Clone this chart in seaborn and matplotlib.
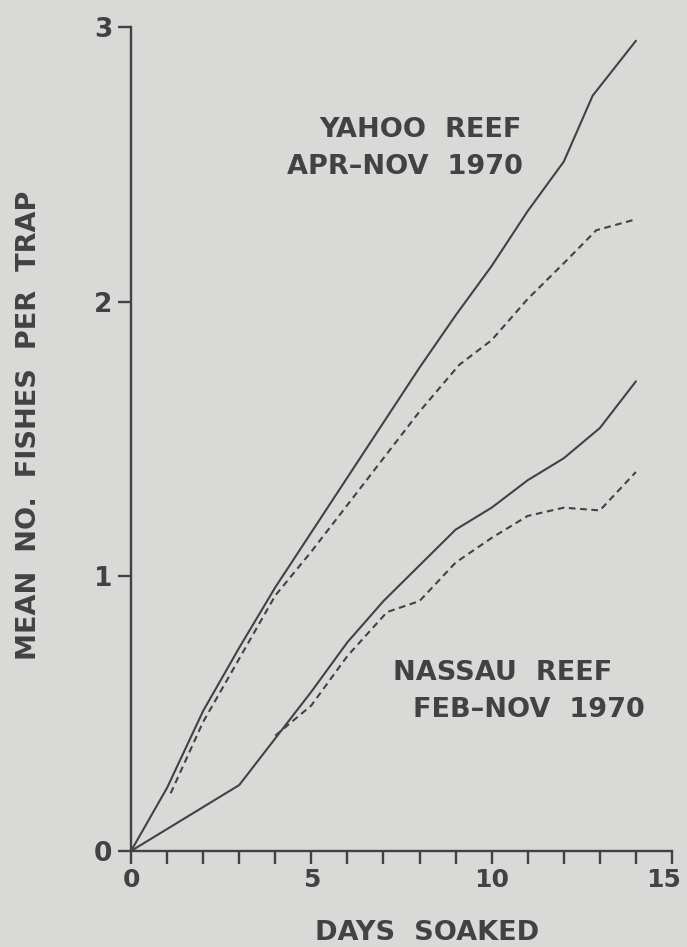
import numpy as np
import pandas as pd
import matplotlib
matplotlib.use("Agg")
import matplotlib.pyplot as plt
import matplotlib.transforms as mtransforms
import seaborn as sns

# Mean number of fishes per trap against days soaked
yahoo_total_days = [0, 1, 2, 3, 4, 5, 6, 7, 8, 9, 10, 11, 12, 12.8, 14]
yahoo_total = [0, 0.23, 0.51, 0.74, 0.96, 1.16, 1.36, 1.56, 1.76, 1.95, 2.13, 2.33, 2.51, 2.75, 2.95]

yahoo_dash_days = [1.1, 2, 3, 4, 5, 6, 7, 8, 9.1, 10, 11, 12, 12.9, 14]
yahoo_dash = [0.21, 0.47, 0.70, 0.93, 1.09, 1.26, 1.43, 1.60, 1.77, 1.86, 2.01, 2.14, 2.26, 2.30]

nassau_total_days = [0, 3, 4, 5, 6, 7, 8, 9, 10, 11, 12, 13, 14]
nassau_total = [0, 0.24, 0.41, 0.58, 0.76, 0.91, 1.04, 1.17, 1.25, 1.35, 1.43, 1.54, 1.71]

nassau_dash_days = [4, 5, 6, 7.1, 8, 9, 10, 11, 12, 13, 14]
nassau_dash = [0.42, 0.53, 0.71, 0.87, 0.91, 1.05, 1.14, 1.22, 1.25, 1.24, 1.38]

x_ticks = list(range(0, 16))
x_ticklabels = ["0", "", "", "", "", "5", "", "", "", "", "10", "", "", "", "", "15"]
y_ticks = [0, 1, 2, 3]

paper = "#d9d9d7"
ink = "#424242"

sns.set_theme(style="ticks")
plt.rcParams["font.family"] = ["DejaVu Sans"]

fig = plt.figure(figsize=(6.87, 9.47), dpi=100, facecolor=paper)
ax = fig.add_axes([131 / 687, 1 - 851 / 947, (672 - 131) / 687, (851 - 27) / 947])
ax.set_facecolor(paper)

series = [
    (yahoo_total_days, yahoo_total, "-"),
    (yahoo_dash_days, yahoo_dash, (0, (3.2, 2.2))),
    (nassau_total_days, nassau_total, "-"),
    (nassau_dash_days, nassau_dash, (0, (3.2, 2.2))),
]
for xs, ys, ls in series:
    df = pd.DataFrame({"days": xs, "fish": ys})
    sns.lineplot(data=df, x="days", y="fish", ax=ax, color=ink, lw=1.5,
                 linestyle=ls, sort=False, estimator=None)

ax.set_xlim(0, 15)
ax.set_ylim(0, 3)
ax.set_xticks(x_ticks)
ax.set_xticklabels(x_ticklabels)
ax.set_yticks(y_ticks)
ax.set_yticklabels([str(v) for v in y_ticks])
ax.set_xlabel("")
ax.set_ylabel("")

for side in ["top", "right"]:
    ax.spines[side].set_visible(False)
for side in ["left", "bottom"]:
    ax.spines[side].set_color(ink)
    ax.spines[side].set_linewidth(1.7)

ax.tick_params(axis="x", direction="out", length=9.5, width=1.7, color=ink,
               labelsize=18, labelcolor=ink, pad=3)
ax.tick_params(axis="y", direction="out", length=9.5, width=1.7, color=ink,
               labelsize=19, labelcolor=ink, pad=4)
for lab in ax.get_xticklabels() + ax.get_yticklabels():
    lab.set_fontweight("bold")

# keep the last day label inside the page edge
last = ax.get_xticklabels()[-1]
last.set_transform(last.get_transform() +
                   mtransforms.ScaledTranslation(-8 / 100, 0, fig.dpi_scale_trans))

txt = dict(color=ink, fontweight="bold", fontsize=19.5)
fig.text(427 / 687, 1 - 933 / 947, "DAYS  SOAKED", ha="center", va="center", **txt)
fig.text(29 / 687, 1 - 425 / 947, "MEAN  NO.  FISHES  PER  TRAP", ha="center",
         va="center", rotation=90, **txt)

fig.text(420 / 687, 1 - 130 / 947, "YAHOO  REEF", ha="center", va="center", **txt)
fig.text(405 / 687, 1 - 167 / 947, "APR\u2013NOV  1970", ha="center", va="center", **txt)
fig.text(503 / 687, 1 - 673 / 947, "NASSAU  REEF", ha="center", va="center", **txt)
fig.text(529 / 687, 1 - 710 / 947, "FEB\u2013NOV  1970", ha="center", va="center", **txt)

fig.savefig("out.png", dpi=100, facecolor=paper)
